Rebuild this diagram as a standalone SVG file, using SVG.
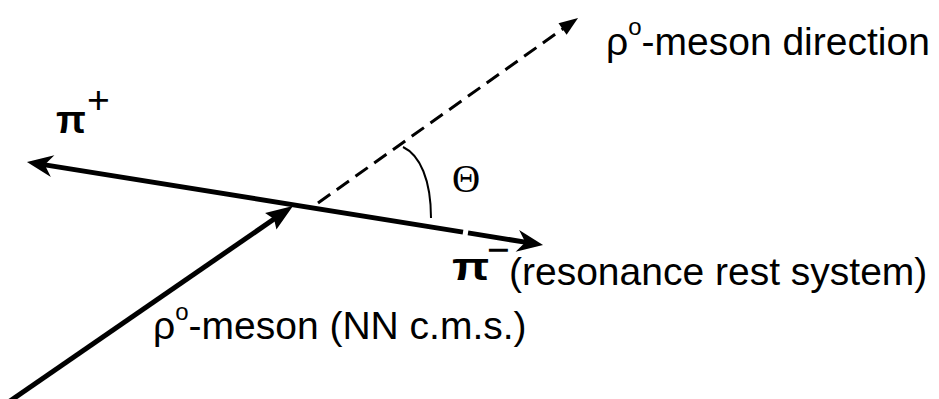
<svg xmlns="http://www.w3.org/2000/svg" width="939" height="399" viewBox="0 0 939 399">
<style>
text{font-family:"Liberation Sans",Arial,sans-serif;fill:#000;font-size:39px}
.sup{font-size:24px}
.thick{fill:none;stroke:#000;stroke-width:5}
.dash{fill:none;stroke:#000;stroke-width:3;stroke-dasharray:15 8}
.arc{fill:none;stroke:#000;stroke-width:2}
</style>
<defs>
<marker id="barb" markerUnits="userSpaceOnUse" viewBox="-20 -15 40 30" markerWidth="40" markerHeight="30" refX="0" refY="0" orient="auto-start-reverse" overflow="visible">
<path d="M12,0 L-14,-11 L-6,0 L-14,11 Z" fill="#000"/>
</marker>
<marker id="tri" markerUnits="userSpaceOnUse" viewBox="-20 -15 40 30" markerWidth="40" markerHeight="30" refX="0" refY="0" orient="auto" overflow="visible">
<path d="M12,0 L-15,-10 L-11,0 L-15,10 Z" fill="#000"/>
</marker>
<marker id="small" markerUnits="userSpaceOnUse" viewBox="-20 -15 40 30" markerWidth="40" markerHeight="30" refX="0" refY="0" orient="auto" overflow="visible">
<path d="M10,0 L-9,-7 L-9,7 Z" fill="#000"/>
</marker>
</defs>
<g id="connectors">
<path id="pi-line" class="thick" d="M38.8,163.9 L463,232.1 M468,232.9 L531.2,243.1" marker-start="url(#barb)" marker-end="url(#barb)"/>
<path id="rho-arrow" class="thick" d="M8,402.4 L283.1,212.8" marker-end="url(#tri)"/>
<path id="rho-direction" class="dash" d="M318,203 L569.9,23.8" marker-end="url(#small)"/>
<path id="angle-arc" class="arc" d="M403,147 C420,155 431,180 431,218"/>
</g>
<g id="label-pi-plus">
<text x="56" y="133" font-size="42" font-weight="bold">π</text>
<text x="87" y="113" font-size="21">+</text>
</g>
<g id="label-pi-minus">
<text transform="translate(452,280) scale(1.25,1)" font-size="30" font-weight="bold">π</text>
<text x="487" y="263" font-size="16">−</text>
<text x="509" y="285">(resonance rest system)</text>
</g>
<g id="label-theta">
<text x="452" y="192" font-size="37" style="font-family:'Liberation Serif','Times New Roman',serif">Θ</text>
</g>
<g id="label-rho-direction">
<text x="606" y="55">ρ<tspan class="sup" dy="-20">o</tspan><tspan dy="20">-meson direction</tspan></text>
</g>
<g id="label-rho-meson">
<text x="153" y="339">ρ<tspan class="sup" dy="-19">o</tspan><tspan dy="19">-meson (NN c.m.s.)</tspan></text>
</g>
</svg>
